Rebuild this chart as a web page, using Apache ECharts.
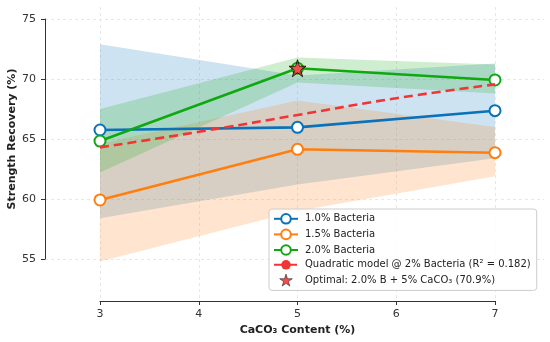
<!DOCTYPE html>
<html><head><meta charset="utf-8">
<script src="https://cdn.jsdelivr.net/npm/echarts@6/dist/echarts.min.js"></script>
<style>html,body{margin:0;padding:0;background:#fff}#c{width:550px;height:342px}</style>
</head><body><div id="c"></div>
<script>
// ---- data ----
const caco3 = [3, 5, 7];
const b10 = [65.75, 65.97, 67.36];
const b10Lo = [58.4, 61.2, 63.4];
const b10Hi = [72.9, 70.3, 71.3];
const b15 = [59.92, 64.14, 63.86];
const b15Lo = [54.8, 59.0, 61.9];
const b15Hi = [64.6, 68.2, 66.0];
const b20 = [64.83, 70.9, 69.92];
const b20Lo = [62.2, 69.7, 68.8];
const b20Hi = [67.5, 71.8, 71.2];
const quadX = [3, 4, 5, 6, 7];
const quadY = [64.3, 65.6, 67.0, 68.4, 69.55];
const optimalX = [5];
const optimalY = [70.9];
const names = ['1.0% Bacteria', '1.5% Bacteria', '2.0% Bacteria',
  'Quadratic model @ 2% Bacteria (R² = 0.182)', 'Optimal: 2.0% B + 5% CaCO₃ (70.9%)'];

const C_BLUE = '#0a72b8', C_ORANGE = '#ff7f0e', C_GREEN = '#10a810', C_RED = '#f03535';
const FONT = 'DejaVu Sans';
const STAR = 'path://M50,0 L61,35 L98,35 L68,57 L79,91 L50,70 L21,91 L32,57 L2,35 L39,35 Z';

function pairs(xs, ys) { return xs.map((x, i) => [x, ys[i]]); }
function band(id, lo, hi, color) {
  return {
    name: id, type: 'custom', silent: true, z: 1, xAxisIndex: 0, yAxisIndex: 0,
    data: caco3.map((x, i) => [x, lo[i], hi[i]]),
    encode: { x: 0, y: [1, 2] },
    renderItem: function (params, api) {
      if (params.dataIndex !== 0) return null;
      const pts = [];
      for (let i = 0; i < caco3.length; i++) pts.push(api.coord([caco3[i], hi[i]]));
      for (let i = caco3.length - 1; i >= 0; i--) pts.push(api.coord([caco3[i], lo[i]]));
      return { type: 'polygon', shape: { points: pts }, style: { fill: color, opacity: 0.2 } };
    }
  };
}
function mainLine(name, ys, color) {
  return { name: name, type: 'line', data: pairs(caco3, ys), color: color,
    symbol: 'emptyCircle', symbolSize: 11, clip: false, z: 3,
    lineStyle: { color: color, width: 2.6 }, itemStyle: { color: color, borderWidth: 2 },
    xAxisIndex: 0, yAxisIndex: 0 };
}

const series = [
  band('b10', b10Lo, b10Hi, C_BLUE),
  band('b15', b15Lo, b15Hi, C_ORANGE),
  band('b20', b20Lo, b20Hi, C_GREEN),
  mainLine(names[0], b10, C_BLUE),
  mainLine(names[1], b15, C_ORANGE),
  mainLine(names[2], b20, C_GREEN),
  { name: names[3], type: 'line', data: pairs(quadX, quadY), smooth: true, symbol: 'none', z: 4, clip: false,
    color: C_RED, lineStyle: { color: C_RED, width: 2.6, type: [9, 5] }, xAxisIndex: 0, yAxisIndex: 0 },
  { name: names[4], type: 'scatter', data: pairs(optimalX, optimalY), symbol: STAR, symbolSize: 17, z: 6,
    color: '#ee2222', itemStyle: { color: '#ee2222', borderColor: '#000', borderWidth: 1 }, clip: false,
    xAxisIndex: 0, yAxisIndex: 0 }
];

const axisCol = '#333';
const gridLine = { show: true, lineStyle: { color: '#e2e2e2', type: [3, 3], width: 0.8 } };
const chart = echarts.init(document.getElementById('c'), null, { renderer: 'canvas' });
chart.setOption({
  animation: false,
  textStyle: { fontFamily: FONT },
  grid: [
    { left: 100, right: 55, top: 7, bottom: 41, containLabel: false, outerBoundsMode: 'none' },
    { left: 45, right: 6, top: 19, bottom: 83, containLabel: false, outerBoundsMode: 'none' }
  ],
  xAxis: [
    { type: 'value', gridIndex: 0, min: 3, max: 7, interval: 1,
      name: 'CaCO₃ Content (%)', nameLocation: 'middle', nameGap: 24, nameMoveOverlap: false,
      nameTextStyle: { fontFamily: FONT, fontWeight: 'bold', fontSize: 11, color: '#222' },
      axisLine: { show: true, lineStyle: { color: axisCol, width: 1 } },
      axisTick: { show: true, length: 4, lineStyle: { color: axisCol } },
      axisLabel: { fontFamily: FONT, fontSize: 11, color: '#333', margin: 8 },
      splitLine: gridLine },
    { type: 'value', gridIndex: 1, min: 0, max: 1, show: false }
  ],
  yAxis: [
    { type: 'value', gridIndex: 0, min: 51.5, max: 76, show: false },
    { type: 'value', gridIndex: 1, min: 55, max: 75, interval: 5,
      name: 'Strength Recovery (%)', nameLocation: 'middle', nameGap: 27, nameRotate: 90, nameMoveOverlap: false,
      nameTextStyle: { fontFamily: FONT, fontWeight: 'bold', fontSize: 11, color: '#222' },
      axisLine: { show: true, lineStyle: { color: axisCol, width: 1 } },
      axisTick: { show: true, length: 4, lineStyle: { color: axisCol } },
      axisLabel: { fontFamily: FONT, fontSize: 11, color: '#333', margin: 9 },
      splitLine: gridLine }
  ],
  legend: {
    data: names.map((n, i) => i === 4 ? { name: n, itemStyle: { borderWidth: 0.6 } } : { name: n }),
    orient: 'vertical', left: 269, top: 209,
    padding: [4, 6, 4, 4], itemGap: 4, itemWidth: 24, itemHeight: 12,
    backgroundColor: 'rgba(255,255,255,0.85)', borderColor: '#cccccc', borderWidth: 1, borderRadius: 3,
    textStyle: { fontFamily: FONT, fontSize: 10, color: '#222', padding: [0, 0, 0, 2] },
    z: 10
  },
  series: series
});
</script></body></html>
